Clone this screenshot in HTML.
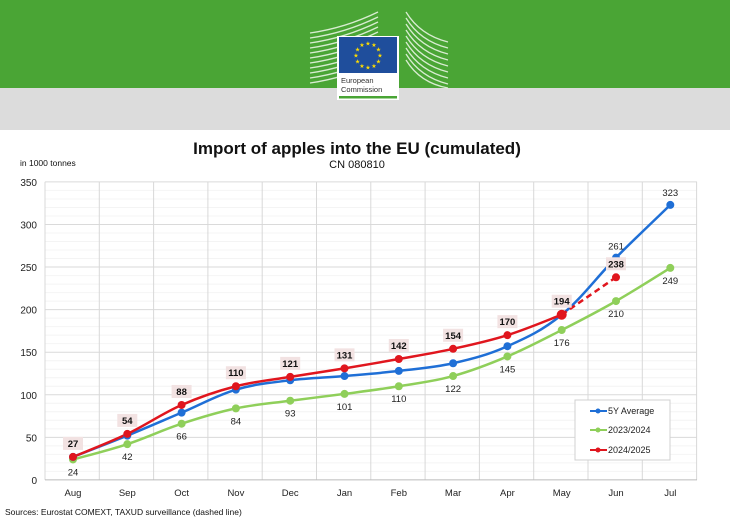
<!DOCTYPE html>
<html><head><meta charset="utf-8"><style>
body{margin:0;width:730px;height:520px;overflow:hidden;background:#fff;font-family:"Liberation Sans",Arial,sans-serif}
</style></head><body>
<svg id="s" width="730" height="520" xmlns="http://www.w3.org/2000/svg" font-family="Liberation Sans, Arial, sans-serif">
<rect x="0" y="0" width="730" height="88" fill="#4aa535"/>
<rect x="0" y="88" width="730" height="42" fill="#dcdcdc"/>
<g stroke="#e8f4e2" stroke-width="1.3" fill="none" opacity="0.9">
<path d="M310 33 Q345 28 378 12"/><path d="M310 38 Q345 33 378 17"/><path d="M310 43 Q345 38 378 22"/><path d="M310 48 Q345 43 378 27"/><path d="M310 53 Q345 48 378 32"/><path d="M310 58 Q345 53 378 37"/><path d="M310 63 Q345 58 378 42"/><path d="M310 68 Q345 63 378 47"/><path d="M310 73 Q345 68 378 52"/><path d="M310 78 Q345 73 378 57"/><path d="M310 83 Q345 78 378 62"/>
<path d="M406 12 Q420 35 448 42"/><path d="M406 18 Q420 41 448 48"/><path d="M406 24 Q420 47 448 54"/><path d="M406 30 Q420 53 448 60"/><path d="M406 36 Q420 59 448 66"/><path d="M406 42 Q420 65 448 72"/><path d="M406 48 Q420 71 448 78"/><path d="M406 54 Q420 77 448 84"/><path d="M406 60 Q420 83 448 88"/>
</g>
<rect x="337" y="36" width="62" height="64" fill="#fff"/>
<rect x="339" y="37" width="58" height="36" fill="#1f4e9c"/>
<g id="stars" fill="#ffdd00"></g>
<text x="341" y="83" font-size="7.5" fill="#333">European</text>
<text x="341" y="92" font-size="7.5" fill="#333">Commission</text>
<rect x="339" y="96" width="58" height="2.5" fill="#4aa535"/>
<text x="357" y="154" font-size="17" font-weight="bold" text-anchor="middle" fill="#111">Import of apples into the EU (cumulated)</text>
<text x="357" y="168" font-size="11" text-anchor="middle" fill="#111">CN 080810</text>
<text x="20" y="166" font-size="8.5" fill="#111">in 1000 tonnes</text>
<g id="grid"></g>
<g id="series"></g>
<rect x="575" y="400" width="95" height="60" fill="#fff" stroke="#d0d0d0"/>
<g font-size="9" fill="#222">
<line x1="590" y1="411" x2="607" y2="411" stroke="#1f6fd6" stroke-width="2"/><circle cx="598" cy="411" r="2.5" fill="#1f6fd6"/><text x="608" y="414">5Y Average</text>
<line x1="590" y1="430" x2="607" y2="430" stroke="#8fcf5a" stroke-width="2"/><circle cx="598" cy="430" r="2.5" fill="#8fcf5a"/><text x="608" y="433">2023/2024</text>
<line x1="590" y1="450" x2="607" y2="450" stroke="#e0161e" stroke-width="2"/><circle cx="598" cy="450" r="2.5" fill="#e0161e"/><text x="608" y="453">2024/2025</text>
</g>
<text x="5" y="515" font-size="8.5" fill="#111">Sources: Eurostat COMEXT, TAXUD surveillance (dashed line)</text>
</svg>
<script>
const NS="http://www.w3.org/2000/svg";
function el(p,t,a,txt){const e=document.createElementNS(NS,t);for(const k in a)e.setAttribute(k,a[k]);if(txt!=null)e.textContent=txt;p.appendChild(e);return e;}
const st=document.getElementById('stars');
for(let i=0;i<12;i++){const a=i*Math.PI/6;el(st,'text',{x:368+12*Math.sin(a),y:57.5-12*Math.cos(a),'font-size':6,'text-anchor':'middle'},'★');}
const g=document.getElementById('grid');
const L=45,R=697,X0=73,DX=54.3,Y0=479.9,K=0.8514;
const Y=v=>Y0-v*K, X=i=>X0+i*DX;
for(let v=10;v<=350;v+=10){if(v%50)el(g,'line',{x1:L,x2:R,y1:Y(v),y2:Y(v),stroke:'#f4f4f4','stroke-width':1});}
for(let v=50;v<=350;v+=50)el(g,'line',{x1:L,x2:R,y1:Y(v),y2:Y(v),stroke:'#dadada','stroke-width':1});
for(let i=0;i<=12;i++){const x=L+i*DX;el(g,'line',{x1:x,x2:x,y1:Y(350),y2:Y0,stroke:'#d8d8d8','stroke-width':1});}
el(g,'line',{x1:L,x2:R,y1:Y0,y2:Y0,stroke:'#bbb'});
for(let v=0;v<=350;v+=50)el(g,'text',{x:37,y:Y(v)+4,'font-size':10,'text-anchor':'end',fill:'#222'},v);
const M=['Aug','Sep','Oct','Nov','Dec','Jan','Feb','Mar','Apr','May','Jun','Jul'];
M.forEach((m,i)=>el(g,'text',{x:X(i),y:496,'font-size':9.5,'text-anchor':'middle',fill:'#222'},m));
function path(vals,start=0){const p=vals.map((v,i)=>[X(i+start),Y(v)]);let d='M'+p[0];for(let i=0;i<p.length-1;i++){const p0=p[i-1]||p[i],p1=p[i],p2=p[i+1],p3=p[i+2]||p2;const t=0.18;d+=` C${p1[0]+(p2[0]-p0[0])*t},${p1[1]+(p2[1]-p0[1])*t} ${p2[0]-(p3[0]-p1[0])*t},${p2[1]-(p3[1]-p1[1])*t} ${p2[0]},${p2[1]}`;}return d;}
const s=document.getElementById('series');
const B=[27,52,79,106,117,122,128,137,157,194,261,323],Gr=[24,42,66,84,93,101,110,122,145,176,210,249],Rd=[27,54,88,110,121,131,142,154,170,194];
const cb='#1f6fd6',cg='#8fcf5a',cr='#e0161e';
el(s,'path',{d:path(Gr),stroke:cg,'stroke-width':2.5,fill:'none'});
el(s,'path',{d:path(B),stroke:cb,'stroke-width':2.5,fill:'none'});
el(s,'line',{x1:X(9),y1:Y(194),x2:X(10),y2:Y(238),stroke:cr,'stroke-width':2.5,'stroke-dasharray':'6,4'});
el(s,'path',{d:path(Rd),stroke:cr,'stroke-width':2.5,fill:'none'});
Gr.forEach((v,i)=>{el(s,'circle',{cx:X(i),cy:Y(v),r:4,fill:cg});el(s,'text',{x:X(i),y:Y(v)+16,'font-size':9.5,'text-anchor':'middle',fill:'#222'},v);});
B.forEach((v,i)=>{el(s,'circle',{cx:X(i),cy:Y(v),r:4,fill:cb});});
el(s,'text',{x:X(10),y:Y(261)-8,'font-size':9.5,'text-anchor':'middle',fill:'#222'},261);
el(s,'text',{x:X(11),y:Y(323)-9,'font-size':9.5,'text-anchor':'middle',fill:'#222'},323);
Rd.concat([238]).forEach((v,i)=>{el(s,'circle',{cx:X(i),cy:Y(v),r:i==9?5:4,fill:cr});const ty=Y(v)-10;el(s,'rect',{x:X(i)-10,y:ty-10,width:20,height:13,fill:'#f2e2e2'});el(s,'text',{x:X(i),y:ty,'font-size':9.5,'font-weight':'bold','text-anchor':'middle',fill:'#111'},v);});
</script>
</body></html>
